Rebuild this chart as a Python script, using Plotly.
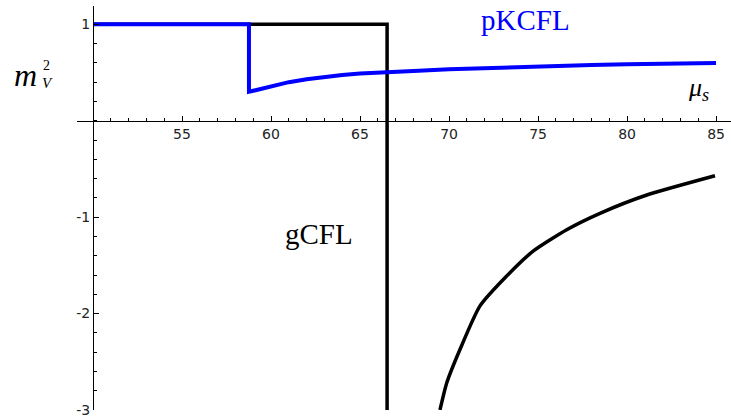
import plotly.graph_objects as go

# ---- data ----
blue_x = [50, 58.76, 58.76, 59.5, 60, 61, 62, 63, 64, 65, 66.5, 68, 70, 72, 75, 78, 80, 82, 85]
blue_y = [1, 1, 0.30, 0.335, 0.36, 0.40, 0.43, 0.455, 0.475, 0.49, 0.50, 0.515, 0.535, 0.548, 0.563, 0.578, 0.586, 0.593, 0.598]

step_x = [50, 66.52, 66.52]
step_y = [1, 1, -3.0]

curve_x = [69.49, 69.87, 70.62, 71.74, 73.24, 74.74, 76.61, 78.48, 81.11, 84.94]
curve_y = [-3.0, -2.72, -2.37, -1.92, -1.61, -1.35, -1.13, -0.96, -0.77, -0.57]

x_tick_vals = [55, 60, 65, 70, 75, 80, 85]
x_tick_text = ["55", "60", "65", "70", "75", "80", "85"]
y_tick_vals = [-3, -2, -1, 1]
y_tick_text = ["-3", "-2", "-1", "1"]

X_RANGE = [49.1, 85.84]
Y_RANGE = [-3.0, 1.19]

fig = go.Figure()
fig.add_trace(go.Scatter(x=step_x, y=step_y, mode="lines",
                         line=dict(color="black", width=3.5), showlegend=False))
fig.add_trace(go.Scatter(x=curve_x, y=curve_y, mode="lines",
                         line=dict(color="black", width=3.5, shape="spline", smoothing=0.6),
                         showlegend=False))
fig.add_trace(go.Scatter(x=blue_x, y=blue_y, mode="lines",
                         line=dict(color="#0000ff", width=4), showlegend=False))

xpos = (0 - Y_RANGE[0]) / (Y_RANGE[1] - Y_RANGE[0])
ypos = (50 - X_RANGE[0]) / (X_RANGE[1] - X_RANGE[0])

tickfont = dict(family="DejaVu Sans", size=14, color="#222")

fig.update_layout(
    width=731, height=418,
    margin=dict(l=77, r=0, t=6, b=8),
    paper_bgcolor="white", plot_bgcolor="white",
    xaxis=dict(range=X_RANGE, domain=[0, 1], anchor="free", position=xpos,
               showline=True, linecolor="black", linewidth=1,
               ticks="inside", ticklen=5, tickwidth=1, tickcolor="black",
               tickvals=x_tick_vals, ticktext=x_tick_text, tickfont=tickfont,
               minor=dict(ticks="inside", dtick=1, tick0=50, ticklen=3, tickcolor="black", showgrid=False),
               showgrid=False, zeroline=False),
    yaxis=dict(range=Y_RANGE, domain=[0, 1], anchor="free", position=ypos,
               showline=True, linecolor="black", linewidth=1,
               ticks="inside", ticklen=5, tickwidth=1, tickcolor="black",
               tickvals=y_tick_vals, ticktext=y_tick_text, tickfont=tickfont,
               minor=dict(ticks="inside", dtick=0.2, tick0=0, ticklen=3, tickcolor="black", showgrid=False),
               showgrid=False, zeroline=False),
)

serif = "Liberation Serif"
fig.add_annotation(x=74.27, y=1.045, xref="x", yref="y", text="pKCFL", showarrow=False,
                   font=dict(family=serif, size=29, color="#0000ff"))
fig.add_annotation(x=62.67, y=-1.17, xref="x", yref="y", text="gCFL", showarrow=False,
                   font=dict(family=serif, size=29, color="black"))
fig.add_annotation(x=84.0, y=0.33, xref="x", yref="y",
                   text="<i>μ</i><sub><i>s</i></sub>", showarrow=False,
                   font=dict(family=serif, size=26, color="black"))
# m_V^2 label (left of axis)
fig.add_annotation(x=-0.078, y=0.47, xref="paper", yref="y", text="<i>m</i>", showarrow=False,
                   xanchor="center", font=dict(family=serif, size=32, color="black"))
fig.add_annotation(x=-0.046, y=0.575, xref="paper", yref="y", text="2", showarrow=False,
                   xanchor="center", borderpad=0, font=dict(family=serif, size=14, color="black"))
fig.add_annotation(x=-0.045, y=0.39, xref="paper", yref="y", text="<i>V</i>", showarrow=False,
                   xanchor="center", borderpad=0, font=dict(family=serif, size=15, color="black"))

fig.write_html("out.html", config={"displayModeBar": False},
               post_script="document.body.style.margin='0';")
